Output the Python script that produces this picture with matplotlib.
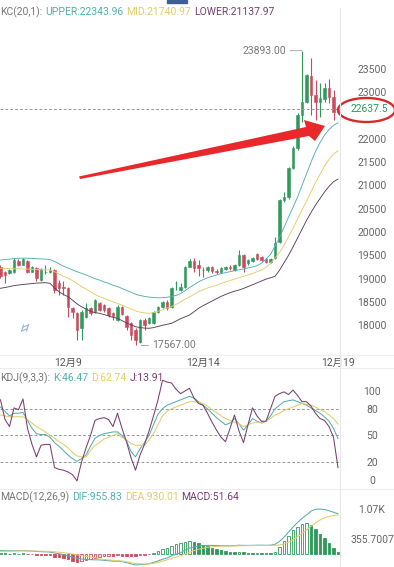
import numpy as np
import pandas as pd
import matplotlib
matplotlib.use("Agg")
import matplotlib.pyplot as plt
from matplotlib.patches import Ellipse, Polygon, Rectangle
from matplotlib.lines import Line2D

plt.rcParams['font.family'] = ['Roboto', 'Noto Sans CJK SC', 'DejaVu Sans']

# ---- data (4h candles) ----
times = pd.date_range('2023-12-06 12:00', periods=76, freq='4h')

opens = [19260, 19140, 19120, 19140, 19390, 19300, 19390, 19150, 19220, 18980,
         19140, 19140, 19190, 18900, 18830, 18800, 18360, 18260, 17940, 18180,
         18360, 18290, 18480, 18440, 18360, 18260, 18120, 18390, 18190, 18050,
         17900, 17650, 18110, 18050, 18050, 18290, 18400, 18500, 18400, 18900,
         18760, 18830, 19260, 19370, 19300, 19190, 19180, 19250, 19170, 19150,
         19200, 19260, 19190, 19290, 19500, 19330, 19370, 19540, 19460, 19420,
         19360, 19440, 19790, 20690, 20760, 21370, 21800, 22513, 22800, 23350,
         22940, 22800, 22850, 23086, 22906, 22584]
highs = [19290, 19160, 19200, 19440, 19420, 19450, 19410, 19270, 19240, 19220,
         19300, 19260, 19200, 18970, 18940, 18830, 18400, 18290, 18330, 18480,
         18400, 18560, 18500, 18460, 18390, 18290, 18430, 18420, 18230, 18080,
         17950, 18130, 18150, 18180, 18310, 18420, 18520, 18540, 18830, 18940,
         18900, 19280, 19420, 19440, 19400, 19260, 19280, 19270, 19200, 19240,
         19280, 19300, 19310, 19620, 19520, 19420, 19460, 19560, 19480, 19440,
         19450, 19900, 20720, 20866, 21400, 21850, 22550, 23893, 23400, 23730,
         23264, 23200, 23193, 23279, 23050, 22680]
lows = [19010, 18900, 19100, 19120, 19280, 19290, 19130, 19140, 18940, 18960,
        19110, 19120, 18690, 18650, 18650, 18185, 18150, 17690, 17680, 18150,
        18230, 18270, 18300, 18280, 18180, 18110, 18090, 18220, 17900, 17680,
        17567, 17620, 17900, 18020, 18030, 18270, 18380, 18330, 18380, 18760,
        18740, 18800, 19240, 19150, 19060, 19040, 19150, 19130, 19100, 19120,
        19180, 19190, 19170, 19270, 19150, 19300, 19350, 19400, 19370, 19330,
        19340, 19420, 19760, 20650, 20700, 21350, 21760, 22369, 22780, 22513,
        22405, 22480, 22800, 22780, 22405, 22560]
closes = [19060, 19080, 19180, 19400, 19300, 19420, 19150, 19250, 19010, 19200,
          19150, 19180, 18760, 18800, 18800, 18400, 18290, 17900, 18290, 18360,
          18260, 18540, 18330, 18330, 18220, 18190, 18400, 18250, 17970, 17790,
          17690, 18110, 18000, 18150, 18290, 18400, 18500, 18360, 18800, 18910,
          18830, 19260, 19370, 19220, 19230, 19180, 19250, 19160, 19150, 19220,
          19260, 19220, 19290, 19500, 19260, 19400, 19440, 19430, 19400, 19360,
          19430, 19760, 20690, 20760, 21370, 21800, 22513, 22800, 23371, 22940,
          22800, 22870, 23086, 22906, 22584, 22637.5]

kc_upper = [19400, 19410, 19420, 19430, 19438, 19440, 19440, 19435, 19430, 19425,
            19420, 19410, 19370, 19320, 19265, 19230, 19190, 19150, 19115, 19080,
            19040, 19000, 18970, 18930, 18900, 18860, 18830, 18790, 18750, 18710,
            18665, 18640, 18620, 18605, 18595, 18590, 18592, 18600, 18620, 18640,
            18680, 18740, 18810, 18870, 18930, 18980, 19020, 19050, 19080, 19110,
            19130, 19150, 19170, 19190, 19210, 19230, 19250, 19280, 19330, 19420,
            19520, 19700, 19880, 20100, 20320, 20530, 20750, 21000, 21250, 21500,
            21730, 21920, 22080, 22200, 22290, 22344]
kc_mid = [19223, 19220, 19215, 19212, 19210, 19208, 19205, 19200, 19196, 19192,
          19190, 19186, 19150, 19100, 19050, 19010, 18960, 18900, 18830, 18780,
          18720, 18660, 18614, 18580, 18540, 18500, 18471, 18430, 18390, 18350,
          18310, 18280, 18265, 18257, 18270, 18300, 18330, 18370, 18399, 18450,
          18500, 18560, 18610, 18660, 18721, 18760, 18800, 18830, 18860, 18900,
          18930, 18960, 18990, 19020, 19050, 19080, 19110, 19150, 19190, 19240,
          19330, 19440, 19560, 19720, 19900, 20080, 20280, 20480, 20660, 20860,
          21060, 21240, 21420, 21560, 21680, 21741]
kc_lower = [18794, 18810, 18830, 18850, 18864, 18875, 18885, 18895, 18905, 18910,
            18914, 18900, 18800, 18720, 18660, 18614, 18540, 18460, 18399, 18350,
            18300, 18270, 18257, 18230, 18200, 18170, 18150, 18100, 18050, 18010,
            17970, 17950, 17940, 17935, 17950, 17975, 18000, 18020, 18043, 18090,
            18140, 18180, 18221, 18290, 18364, 18420, 18470, 18520, 18570, 18620,
            18660, 18700, 18730, 18757, 18790, 18830, 18870, 18910, 18950, 18990,
            19020, 19050, 19180, 19340, 19500, 19680, 19870, 20060, 20250, 20420,
            20580, 20720, 20860, 20980, 21080, 21138]

kdj_k = [82, 77, 72, 75, 75, 76, 67, 58, 52, 51, 51, 48, 42, 38, 33, 28, 24, 21, 24, 28,
         38, 47, 50, 52, 53, 54, 54, 50, 44, 32, 26, 35, 42, 50, 62, 74, 80, 84, 86, 88,
         90, 92, 94, 92, 88, 84, 80, 75, 70, 66, 62, 64, 69, 63, 56, 62, 69, 66, 64, 66,
         72, 80, 84, 88, 89, 90, 88, 86, 84, 81, 78, 75, 71, 66, 58, 46.47]
kdj_d = [73, 72, 71, 71, 71, 71, 68, 64, 60, 57, 54, 50, 47, 43, 40, 36, 31, 27, 26, 26,
         33, 39, 42, 46, 48, 50, 52, 48, 45, 41, 39, 39, 39, 45, 52, 62, 72, 77, 80, 82,
         84, 86, 88, 88, 87, 86, 83, 79, 76, 72, 69, 67, 65, 63, 60, 62, 64, 65, 65, 66,
         69, 73, 75, 78, 80, 82, 84, 86, 85, 84, 82, 79, 77, 73, 69, 62.74]
kdj_j = [90, 68, 60, 81, 79, 91, 58, 40, 26, 39, 40, 40, 14, 12, 11, 9, 6, -1, 20, 36,
         50, 67, 69, 70, 68, 60, 75, 58, 43, 25, 11, 28, 40, 55, 72, 90, 112, 110, 109, 102,
         97, 100, 103, 92, 86, 84, 75, 65, 56, 48, 43, 58, 73, 55, 42, 62, 81, 72, 66, 66,
         80, 94, 97, 99, 96, 101, 95, 88, 88, 83, 75, 69, 67, 60, 48, 13.91]

dif = [80, 78, 76, 78, 78, 80, 74, 70, 60, 56, 50, 46, 25, 5, -12, -45, -70, -105, -120, -130,
       -135, -138, -140, -150, -160, -170, -170, -180, -205, -235, -260, -250, -245, -230, -200,
       -165, -125, -95, -45, -5, 30, 90, 140, 170, 190, 200, 205, 205, 200, 198, 195, 195, 198,
       210, 205, 205, 206, 210, 210, 208, 210, 230, 300, 400, 520, 640, 750, 850, 930, 1020,
       1065, 1070, 1060, 1030, 995, 955.83]
dea = [60, 64, 66, 69, 71, 73, 73, 73, 71, 68, 65, 61, 54, 44, 33, 17, 0, -20, -40, -58,
       -74, -87, -120, -130, -140, -150, -160, -168, -185, -205, -228, -235, -238, -235, -222,
       -200, -170, -140, -110, -78, -45, -5, 40, 80, 112, 138, 158, 172, 180, 185, 188, 190, 192,
       196, 197, 199, 200, 202, 203, 204, 205, 208, 215, 240, 280, 340, 410, 490, 570, 660,
       740, 810, 860, 895, 918, 930.01]
macd_hist = [15, 12, 10, 12, 10, 12, -5, -8, -15, -20, -25, -35, -60, -80, -100, -130, -155,
             -190, -170, -145, -120, -100, -60, -45, -40, -45, -30, -40, -45, -50, -55, -35, -20,
             -8, 25, 70, 120, 150, 200, 240, 270, 295, 310, 290, 265, 225, 190, 150, 115, 90, 65,
             55, 48, 58, 40, 30, 26, 28, 22, 15, 14, 50, 160, 300, 440, 560, 650, 720, 740, 700,
             600, 480, 380, 270, 150, 51.64]

price_ticks = [18000, 18500, 19000, 19500, 20000, 20500, 21000, 21500, 22000, 23000, 23500]
kdj_ticks = [0, 20, 50, 80, 100]
macd_ticks = [1067.1, 355.7007]
macd_tick_labels = ['1.07K', '355.7007']

# ---- style ----
GREEN = '#2f9a5c'
RED = '#cc4a5c'
TEAL = '#55aeac'
YELLOW = '#e2cc68'
DARK = '#5c3f58'
PURPLE = '#7a3d70'
GREY = '#666666'
FS = 7.5

W, H = 394, 567
fig = plt.figure(figsize=(W / 100, H / 100), dpi=100)


def fx(px):
    return px / W


def fy(py):
    return 1 - py / H


ax = fig.add_axes([0, fy(355), fx(340), 355 / H])
ax_kdj = fig.add_axes([0, fy(489), fx(340), (489 - 368) / H])
ax_macd = fig.add_axes([0, 0, fx(340), (567 - 489) / H])

n = len(closes)
idx = np.arange(n)
o, h, l, c = map(np.array, (opens, highs, lows, closes))
col = np.where(c >= o, GREEN, RED)

for a in (ax, ax_kdj, ax_macd):
    a.set_xlim(-0.111, 75.444)
    for s in a.spines.values():
        s.set_visible(False)
    a.yaxis.tick_right()
    a.tick_params(axis='y', length=0, pad=23, labelsize=FS, labelcolor=GREY)
    a.tick_params(axis='x', length=0)
    a.set_xticks([])

# main candle panel
ax.set_ylim(17362, 24981)
ax.vlines(idx, l, h, colors=col, lw=0.8)
ax.bar(idx, np.abs(c - o), bottom=np.minimum(o, c), width=0.62, color=col,
       edgecolor=col, linewidth=0.4)
ax.plot(idx, kc_upper, color=TEAL, lw=0.65)
ax.plot(idx, kc_mid, color=YELLOW, lw=0.65)
ax.plot(idx, kc_lower, color=DARK, lw=0.65)
ax.axhline(c[-1], color='#999999', lw=0.7, ls=(0, (3, 2)))
ax.set_yticks(price_ticks)
ax.set_yticklabels([str(t) for t in price_ticks])

day_pos = [i for i, t in enumerate(times) if t.hour == 0 and t.day in (9, 14, 19)]
ax.set_xticks(day_pos)
ax.set_xticklabels([f"{times[i].month}月{times[i].day}" for i in day_pos])
ax.tick_params(axis='x', pad=2, labelsize=FS, labelcolor='#555555')

hi = int(np.argmax(h))
lo = int(np.argmin(l))
ax.annotate(f"{h[hi]:.2f}", xy=(hi, h[hi]), xytext=(-16, 0), textcoords='offset pixels',
            ha='right', va='center', fontsize=FS, color='#777777',
            arrowprops=dict(arrowstyle='-', color='#999999', lw=0.6, shrinkA=1, shrinkB=0))
ax.annotate(f"{l[lo]:.2f}", xy=(lo, l[lo]), xytext=(17, 0), textcoords='offset pixels',
            ha='left', va='center', fontsize=FS, color='#777777',
            arrowprops=dict(arrowstyle='-', color='#999999', lw=0.6, shrinkA=1, shrinkB=4))

# KDJ panel
ax_kdj.set_ylim(-10.1, 125.8)
for lv in (80, 50, 20):
    ax_kdj.axhline(lv, color='#999999', lw=0.7, ls=(0, (3, 2)))
ax_kdj.plot(idx, kdj_k, color=TEAL, lw=0.75)
ax_kdj.plot(idx, kdj_d, color=YELLOW, lw=0.75)
ax_kdj.plot(idx, kdj_j, color=PURPLE, lw=0.75)
ax_kdj.set_yticks(kdj_ticks)
ax_kdj.set_yticklabels([str(t) for t in kdj_ticks])

# MACD panel
ax_macd.set_ylim(-309.5, 1547.6)
hist = np.array(macd_hist)
prev = np.concatenate([[hist[0]], hist[:-1]])
for i, v in enumerate(hist):
    cc = GREEN if v >= 0 else RED
    filled = v < prev[i]
    ax_macd.bar(i, v, width=0.62, facecolor=cc if filled else 'white',
                edgecolor=cc, linewidth=0.6)
ax_macd.plot(idx, dif, color=TEAL, lw=0.75)
ax_macd.plot(idx, dea, color=YELLOW, lw=0.75)
ax_macd.set_yticks(macd_ticks)
ax_macd.set_yticklabels(macd_tick_labels)

for a in (ax, ax_kdj, ax_macd):
    for lab in a.get_yticklabels():
        lab.set_horizontalalignment('center')

# header lines with coloured pieces
renderer = fig.canvas.get_renderer()


def header(x_px, y_px, pieces):
    x = x_px
    for s, cc in pieces:
        t = fig.text(fx(x), fy(y_px), s, color=cc, fontsize=FS, ha='left', va='center')
        x += t.get_window_extent(renderer=renderer).width + 3


header(0, 12, [("KC(20,1):", '#777777'), ("UPPER:22343.96", TEAL),
               ("MID:21740.97", YELLOW), ("LOWER:21137.97", PURPLE)])
header(0, 378, [("KDJ(9,3,3):", '#777777'), (f"K:{kdj_k[-1]:.2f}", TEAL),
                (f"D:{kdj_d[-1]:.2f}", YELLOW), (f"J:{kdj_j[-1]:.2f}", PURPLE)])
header(0, 497, [("MACD(12,26,9)", '#777777'), (f"DIF:{dif[-1]:.2f}", TEAL),
                (f"DEA:{dea[-1]:.2f}", YELLOW), (f"MACD:{macd_hist[-1]:.2f}", PURPLE)])

# separators, tab marker
fig.add_artist(Line2D([fx(340), fx(340)], [fy(8), 0], color='#e6e6e6', lw=0.8))
for yy in (355, 368, 489):
    fig.add_artist(Line2D([0, 1], [fy(yy), fy(yy)], color='#eeeeee', lw=0.8))
fig.add_artist(Rectangle((fx(167), fy(3)), 20 / W, 3 / H, transform=fig.transFigure,
                         color='#3d5f94'))

# last price label with hand-drawn red circle
fig.text(fx(351), fy(109), f"{c[-1]:.1f}", color=GREEN, fontsize=FS, ha='left', va='center')
fig.add_artist(Ellipse((fx(366.5), fy(110)), 57 / W, 24 / H, transform=fig.transFigure,
                       fill=False, edgecolor='#d42a2a', lw=1.7))

# red hand-drawn arrow
arrow_px = np.array([(79, 176.5), (306, 127), (304, 120), (325, 126), (315, 141),
                     (309, 136), (80, 179)])
fig.add_artist(Polygon(np.column_stack([arrow_px[:, 0] / W, 1 - arrow_px[:, 1] / H]),
                       closed=True, transform=fig.transFigure, fc='#e8282a', ec='none'))

# small expand icon
for tip, tail in (((31, 322), (26.5, 327)), ((19, 334), (23.5, 329))):
    ax.annotate('', xy=(tip[0], H - tip[1]), xytext=(tail[0], H - tail[1]),
                xycoords='figure pixels', textcoords='figure pixels',
                arrowprops=dict(arrowstyle='->', color='#a9bccf', lw=0.9))

fig.savefig('out.png', dpi=100)
